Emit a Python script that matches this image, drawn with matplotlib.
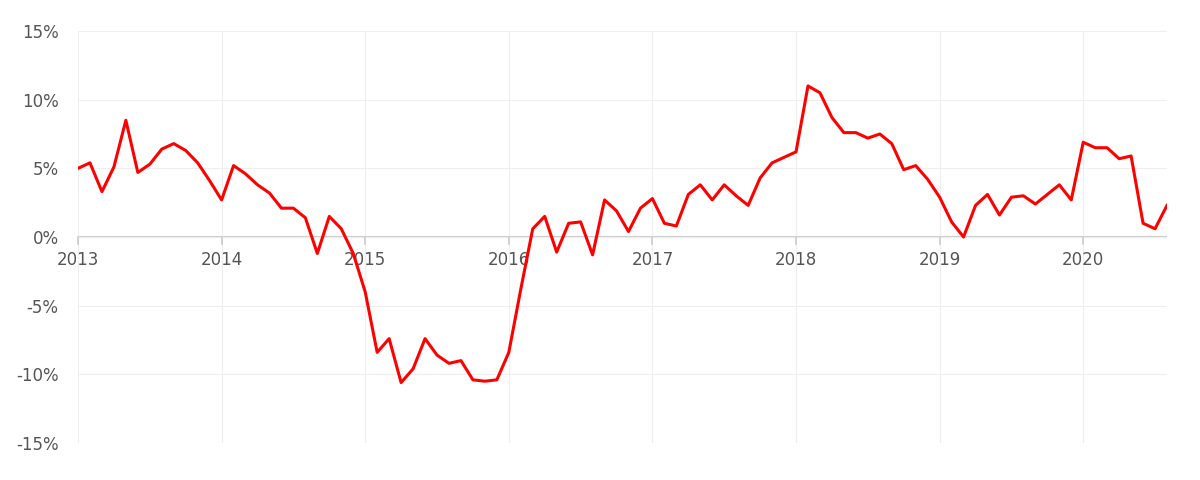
import numpy as np
import matplotlib
matplotlib.use("Agg")
import matplotlib.pyplot as plt

# monthly values, Jan 2013 .. Aug 2020 (%)
values = [
    5.0, 5.4, 3.3, 5.1, 8.5, 4.7, 5.3, 6.4, 6.8, 6.3, 5.4, 4.1,
    2.7, 5.2, 4.6, 3.8, 3.2, 2.1, 2.1, 1.4, -1.2, 1.5, 0.6, -1.2,
    -4.0, -8.4, -7.4, -10.6, -9.6, -7.4, -8.6, -9.2, -9.0, -10.4, -10.5, -10.4,
    -8.4, -3.8, 0.6, 1.5, -1.1, 1.0, 1.1, -1.3, 2.7, 1.9, 0.4, 2.1,
    2.8, 1.0, 0.8, 3.1, 3.8, 2.7, 3.8, 3.0, 2.3, 4.3, 5.4, 5.8,
    6.2, 11.0, 10.5, 8.7, 7.6, 7.6, 7.2, 7.5, 6.8, 4.9, 5.2, 4.2,
    2.9, 1.1, 0.0, 2.3, 3.1, 1.6, 2.9, 3.0, 2.4, 3.1, 3.8, 2.7,
    6.9, 6.5, 6.5, 5.7, 5.9, 1.0, 0.6, 2.3,
]
years = list(range(2013, 2021))
yticks = [15, 10, 5, 0, -5, -10, -15]

x = 2013 + np.arange(len(values)) / 12.0

fig = plt.figure(figsize=(12, 4.8), dpi=100)
ax = fig.add_axes([78/1200, 37/480, 1089/1200, 412/480])
ax.plot(x, values, color="#ff0000", lw=2.2)
ax.set_xlim(x[0], x[-1])
ax.set_ylim(-15, 15)
ax.set_yticks(yticks)
ax.set_yticklabels([f"{v}%" for v in yticks])
ax.set_xticks(years)
ax.set_xticklabels([str(y) for y in years])
for s in ax.spines.values():
    s.set_visible(False)
ax.grid(True, color="#eeeeee", lw=0.8)
ax.axhline(0, color="#cccccc", lw=1.5, zorder=1)
ax.tick_params(axis="y", length=0, labelsize=12, labelcolor="#555555", pad=14)
ax.tick_params(axis="x", length=6, color="#cccccc", labelsize=12, labelcolor="#555555", pad=4)
# move x tick labels to the zero line
for lab in ax.get_xticklabels():
    lab.set_transform(lab.get_transform() + matplotlib.transforms.ScaledTranslation(0, 206/100, fig.dpi_scale_trans))
ax.xaxis.set_ticks_position("none")
ax.plot([years, years], [[0]*len(years), [-0.5]*len(years)], color="#cccccc", lw=1.2, clip_on=False)
fig.savefig("out.png", dpi=100)
